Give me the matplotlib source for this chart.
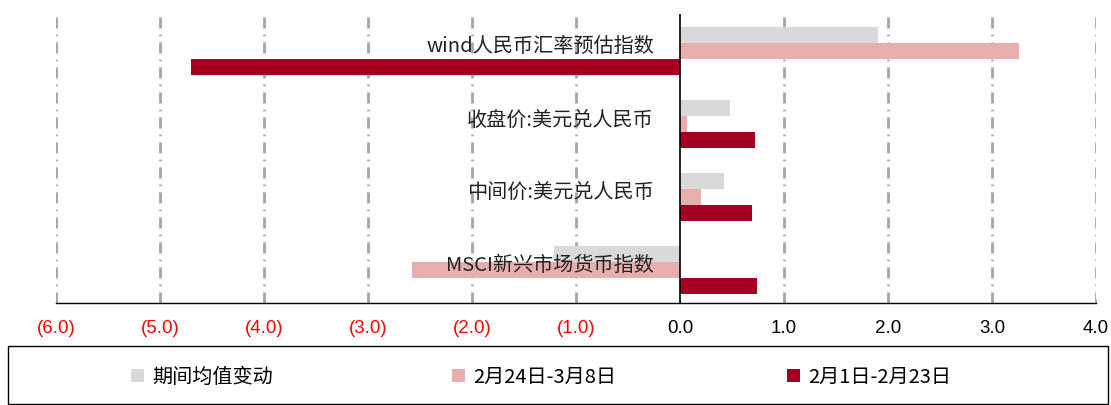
import matplotlib
matplotlib.use("Agg")
import matplotlib.pyplot as plt
from matplotlib.patches import Rectangle, Patch
import numpy as np

categories = ["wind人民币汇率预估指数", "收盘价:美元兑人民币", "中间价:美元兑人民币", "MSCI新兴市场货币指数"]
series_names = ["期间均值变动", "2月24日-3月8日", "2月1日-2月23日"]
avg_change = [1.90, 0.48, 0.42, -1.21]
period2 = [3.26, 0.07, 0.20, -2.58]
period1 = [-4.70, 0.72, 0.69, 0.74]
xticks = [-6, -5, -4, -3, -2, -1, 0, 1, 2, 3, 4]

colors = ["#d9d9d9", "#e8adad", "#a50021"]
cjk = ["Noto Sans CJK SC", "DejaVu Sans"]
narrow = ["Liberation Sans Narrow", "Liberation Sans", "DejaVu Sans"]

fig = plt.figure(figsize=(11.11, 4.05), dpi=100)
ax = fig.add_axes([56/1111, 1-303/405, 1040/1111, 289/405])

y = np.arange(len(categories))
h = 0.22
for off, vals, c in zip([-h, 0, h], [avg_change, period2, period1], colors):
    ax.barh(y + off, vals, height=h, color=c, zorder=2)

ax.set_xlim(-6, 4)
ax.set_ylim(3.45, -0.51)
ax.set_yticks([])

for t in xticks:
    if t != 0:
        ax.axvline(t, color="#a6a6a6", lw=2.0, linestyle=(0, (4, 2.2, 0.6, 2.2)), zorder=1)
ax.axvline(0, color="black", lw=1.2, zorder=3)

for s in ["top", "right", "left"]:
    ax.spines[s].set_visible(False)
ax.spines["bottom"].set_color("black")
ax.spines["bottom"].set_linewidth(1.0)

ax.set_xticks(xticks)
labels = [f"({abs(t):.1f})" if t < 0 else f"{t:.1f}" for t in xticks]
ax.set_xticklabels(labels, family=narrow, fontsize=13.5)
for lab, t in zip(ax.get_xticklabels(), xticks):
    lab.set_color("#ff0000" if t < 0 else "black")
ax.tick_params(axis="x", direction="in", length=3, color="#a6a6a6", pad=12)

for i, cat in enumerate(categories):
    ax.text(-0.25, i - 0.06, cat, ha="right", va="center", fontsize=14.5,
            family=cjk, color="#222222", zorder=4)

# legend box
fig.patches.append(Rectangle((8/1111, 1/405), 1100/1111, 58/405, transform=fig.transFigure,
                             fill=False, edgecolor="black", lw=1.0))
starts = [131, 452, 787]
for name, c, x0 in zip(series_names, colors, starts):
    leg = fig.legend([Patch(facecolor=c, edgecolor="none")], [name], loc="center left",
                     bbox_to_anchor=(x0/1111, 1-377/405), frameon=False,
                     prop={"family": cjk, "size": 14.5}, borderpad=0, borderaxespad=0,
                     handlelength=0.65, handleheight=0.65, handletextpad=0.4)

fig.savefig("out.png", dpi=100)
